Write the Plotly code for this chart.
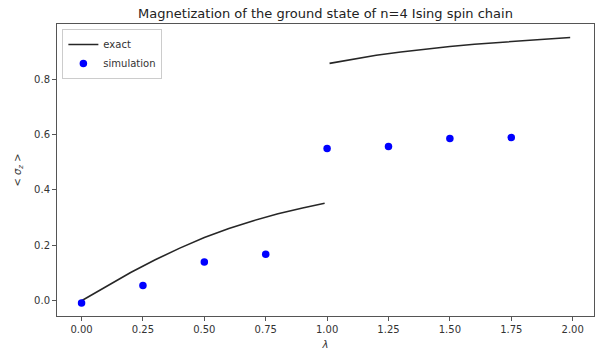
import plotly.graph_objects as go

# exact curve, low-field segment
lam_exact_lo = [0.0, 0.1, 0.2, 0.3, 0.4, 0.5, 0.6, 0.7, 0.8, 0.9, 0.99]
m_exact_lo = [0.0, 0.052, 0.102, 0.148, 0.190, 0.228, 0.261, 0.289, 0.314, 0.335, 0.352]
# exact curve, high-field segment
lam_exact_hi = [1.01, 1.1, 1.2, 1.3, 1.4, 1.5, 1.6, 1.7, 1.8, 1.9, 1.99]
m_exact_hi = [0.857, 0.872, 0.886, 0.898, 0.909, 0.918, 0.926, 0.933, 0.939, 0.945, 0.950]

# simulation points
lam_sim = [0.0, 0.25, 0.5, 0.75, 1.0, 1.25, 1.5, 1.75]
m_sim = [-0.008, 0.055, 0.140, 0.168, 0.550, 0.557, 0.586, 0.589]

x_ticks = [0.0, 0.25, 0.5, 0.75, 1.0, 1.25, 1.5, 1.75, 2.0]
y_ticks = [0.0, 0.2, 0.4, 0.6, 0.8]

font = "DejaVu Sans"

fig = go.Figure()
fig.add_trace(go.Scatter(
    x=lam_exact_lo + [None] + lam_exact_hi,
    y=m_exact_lo + [None] + m_exact_hi,
    mode="lines", name="exact",
    line=dict(color="rgba(0,0,0,0.85)", width=1.6),
    connectgaps=False,
))
fig.add_trace(go.Scatter(
    x=lam_sim, y=m_sim, mode="markers", name="simulation",
    marker=dict(color="#0000ff", size=7.5, line=dict(width=0)),
))

axis_common = dict(
    showgrid=False, zeroline=False, showline=True, mirror=True,
    linecolor="#555", linewidth=1, ticks="outside", ticklen=4,
    tickcolor="#555", tickwidth=1,
    tickfont=dict(family=font, size=10, color="#333"),
)

fig.update_layout(
    width=598, height=353,
    margin=dict(l=57, r=4, t=24, b=37),
    paper_bgcolor="white", plot_bgcolor="white",
    font=dict(family=font, size=10, color="#333"),
    title=dict(text="Magnetization of the ground state of n=4 Ising spin chain",
               x=(57 + 594) / 2 / 598, xanchor="center", y=1 - 13 / 353, yanchor="middle",
               font=dict(family=font, size=13, color="#222")),
    xaxis=dict(range=[-0.1, 2.087], tickvals=x_ticks,
               ticktext=[f"{v:.2f}" for v in x_ticks],
               title=dict(text="<i>λ</i>", standoff=6, font=dict(family=font, size=10, color="#333")),
               **axis_common),
    yaxis=dict(range=[-0.055, 0.999], tickvals=y_ticks,
               ticktext=[f"{v:.1f}" for v in y_ticks],
               title=dict(text="&lt; <i>σ<sub>z</sub></i> &gt;", standoff=10,
                          font=dict(family=font, size=10, color="#333")),
               **axis_common),
    legend=dict(x=0.01, y=0.983, xanchor="left", yanchor="top",
                bgcolor="rgba(255,255,255,0.8)", bordercolor="#ccc", borderwidth=1,
                font=dict(family=font, size=10, color="#333"),
                itemwidth=30, tracegroupgap=0),
    showlegend=True,
)

fig.write_html("out.html")
